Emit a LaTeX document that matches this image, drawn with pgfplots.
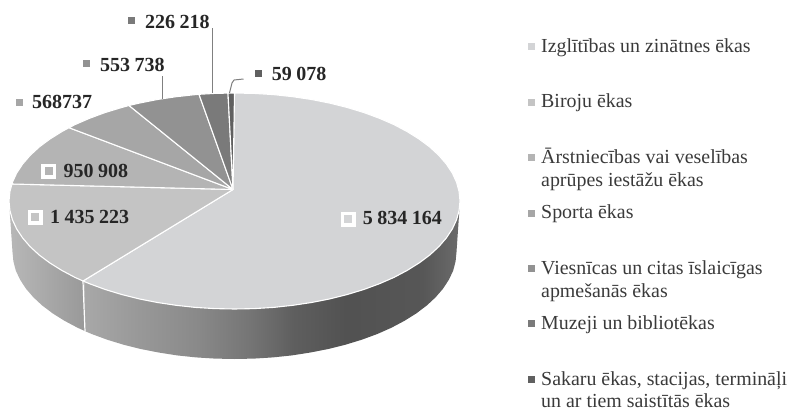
\documentclass[border=0pt]{standalone}
\usepackage{fontspec}
\setmainfont{Liberation Serif}
\usepackage{pgfplots}
\pgfplotsset{compat=1.18}

% side wall shades, 25bp..75bp spans the bounding box of the path
\pgfdeclarehorizontalshading{wallright}{100bp}{
  color(0bp)=(black!34); color(25bp)=(black!34); color(32bp)=(black!40); color(40bp)=(black!46);
  color(47bp)=(black!54); color(53bp)=(black!63); color(60bp)=(black!68);
  color(70bp)=(black!66); color(75bp)=(black!58); color(100bp)=(black!58)}
\pgfdeclarehorizontalshading{wallleft}{100bp}{
  color(0bp)=(black!28); color(25bp)=(black!28); color(50bp)=(black!34);
  color(75bp)=(black!40); color(100bp)=(black!40)}

\definecolor{sA}{HTML}{D3D4D6}
\definecolor{sB}{HTML}{C4C4C4}
\definecolor{sC}{HTML}{B4B4B4}
\definecolor{sD}{HTML}{A6A6A6}
\definecolor{sE}{HTML}{929292}
\definecolor{sF}{HTML}{7A7A7A}
\definecolor{sG}{HTML}{606060}
\definecolor{ink}{HTML}{262626}
\definecolor{leg}{HTML}{3A3A3A}

\newcommand{\val}[1]{\fontsize{20}{22}\selectfont\bfseries\color{ink}#1}
\newcommand{\gap}{\kern4.5pt}
\newcommand{\lgd}[1]{\fontsize{19.9}{22}\selectfont\color{leg}#1}

\begin{document}
\begin{tikzpicture}
\begin{axis}[
  scale only axis,width=788pt,height=410pt,
  xmin=0,xmax=788,ymin=0,ymax=410,y dir=reverse,
  axis lines=none,clip=false,
  slice/.style={draw=white,line width=1.1pt,line join=round,mark=none},
  sq/.style 2 args={only marks,mark=square*,mark size=#2pt,mark options={draw=#1,fill=#1,line width=0pt,solid}},
  lead/.style={draw=black!50,line width=1pt,mark=none},
]
% keep the full canvas in the bounding box
\path (axis cs:0,0) rectangle (axis cs:788,410);
% walls
\addplot[shade,shading=wallleft,draw=none,mark=none] coordinates {
(9,201)(12.5,252)(13.4,261.3)(15.8,270.6)(20.1,279.7)(25.9,288.6)(33.3,297.2)(42.2,305.5)(52.7,313.4)(64.5,320.8)(77.5,327.7)(85,331.1)(83,200)} --cycle;
\addplot[shade,shading=wallright,draw=none,mark=none] coordinates {
(83,200)(85,331.1)(91.7,334)(107.2,339.7)(123.5,344.7)(140.7,349)(158.6,352.5)(177,355.4)(196,357.4)(215.1,358.6)(234.5,359)(253.9,358.6)(273,357.4)(292,355.4)(310.4,352.5)(328.3,349)(345.5,344.7)(361.8,339.7)(377.3,334)(391.5,327.7)(404.5,320.8)(416.3,313.4)(426.8,305.5)(435.7,297.2)(443.1,288.6)(448.9,279.7)(453.2,270.6)(455.6,261.3)(456.5,252)(460,201)} --cycle;
\addplot[draw=white,line width=1.2pt,mark=none] coordinates {(83,281)(85,331.5)};

% 5 834 164
\addplot[slice,fill=sA] coordinates {
(233,189.5)(234.5,93)(254.2,93.4)(273.6,94.6)(292.9,96.7)(311.6,99.5)(329.8,103.1)(347.3,107.5)(363.8,112.5)(379.5,118.3)(394,124.6)(407.2,131.6)(419.2,139.1)(429.8,147)(438.9,155.4)(446.4,164.1)(452.3,173)(456.6,182.3)(459.1,191.6)(460,201)(459.1,210.4)(456.6,219.7)(452.3,229)(446.4,237.9)(438.9,246.6)(429.8,255)(419.2,262.9)(407.2,270.4)(394,277.4)(379.5,283.7)(363.8,289.5)(347.3,294.5)(329.8,298.9)(311.6,302.5)(292.9,305.3)(273.6,307.4)(254.2,308.6)(234.5,309)(214.8,308.6)(195.4,307.4)(176.1,305.3)(157.4,302.5)(139.2,298.9)(121.7,294.5)(105.2,289.5)(89.5,283.7)(83,281)} --cycle;
% 1 435 223
\addplot[slice,fill=sB] coordinates {
(233,189.5)(83,281)(75,277.4)(61.8,270.4)(49.8,262.9)(39.2,255)(30.1,246.6)(22.6,237.9)(16.7,229)(12.4,219.7)(9.9,210.4)(9,201)(9.9,191.6)(12,184)} --cycle;
% 950 908
\addplot[slice,fill=sC] coordinates {
(233,189.5)(12,184)(12.4,182.3)(16.7,173)(22.6,164.1)(30.1,155.4)(39.2,147)(49.8,139.1)(61.8,131.6)(69,127.7)} --cycle;
% 568 737
\addplot[slice,fill=sD] coordinates {
(233,189.5)(69,127.7)(75,124.6)(89.5,118.3)(105.2,112.5)(121.7,107.5)(129,105.5)} --cycle;
% 553 738
\addplot[slice,fill=sE] coordinates {
(233,189.5)(129,105.5)(139.2,103.1)(157.4,99.5)(176.1,96.7)(195.4,94.6)(199,94.3)} --cycle;
% 226 218
\addplot[slice,fill=sF] coordinates {
(233,189.5)(199,94.3)(214.8,93.4)(228,93.1)} --cycle;
% 59 078
\addplot[slice,fill=sG] coordinates {
(233,189.5)(228,93.1)(234.5,93)} --cycle;

% leader lines
\addplot[lead] coordinates {(212,28)(212,93)};
\addplot[lead] coordinates {(162,76)(162,98.5)};
\addplot[lead] coordinates {(229.5,93)(232,83)(234,80)(243.5,79)};

% value label keys
\addplot[sq={sF}{3}] coordinates {(131,20)};
\addplot[sq={sE}{3}] coordinates {(86.5,63)};
\addplot[sq={sD}{3}] coordinates {(19,102)};
\addplot[sq={sG}{3}] coordinates {(258,73)};
\addplot[sq={white}{7}] coordinates {(48.5,171)(35,217)(348.3,219)};
\addplot[sq={sC}{3.5}] coordinates {(48.5,171)};
\addplot[sq={sB}{3.5}] coordinates {(35,217)};
\addplot[sq={sA}{3.5}] coordinates {(348.3,219)};

% value labels
\node[anchor=base west,inner sep=0pt] at (axis cs:145,28.3) {\val{226\gap 218}};
\node[anchor=base west,inner sep=0pt] at (axis cs:100,71) {\val{553\gap 738}};
\node[anchor=base west,inner sep=0pt] at (axis cs:32,108.3) {\val{568737}};
\node[anchor=base west,inner sep=0pt] at (axis cs:63.3,177.7) {\val{950\gap 908}};
\node[anchor=base west,inner sep=0pt] at (axis cs:50,223.3) {\val{1\gap 435\gap 223}};
\node[anchor=base west,inner sep=0pt] at (axis cs:362.7,224.3) {\val{5\gap 834\gap 164}};
\node[anchor=base west,inner sep=0pt] at (axis cs:271.7,80.7) {\val{59\gap 078}};

% legend
\addplot[sq={sA}{3}] coordinates {(531.7,46)};
\addplot[sq={sB}{3}] coordinates {(531.7,102)};
\addplot[sq={sC}{3}] coordinates {(531.7,157)};
\addplot[sq={sD}{3}] coordinates {(531.7,213)};
\addplot[sq={sE}{3}] coordinates {(531.7,268)};
\addplot[sq={sF}{3}] coordinates {(531.7,323)};
\addplot[sq={sG}{3}] coordinates {(531.7,379)};
\node[anchor=base west,inner sep=0pt] at (axis cs:541,52.3) {\lgd{Izglītības un zinātnes ēkas}};
\node[anchor=base west,inner sep=0pt] at (axis cs:541,107.7) {\lgd{Biroju ēkas}};
\node[anchor=base west,inner sep=0pt] at (axis cs:541,163.3) {\lgd{Ārstniecības vai veselības}};
\node[anchor=base west,inner sep=0pt] at (axis cs:541,186) {\lgd{aprūpes iestāžu ēkas}};
\node[anchor=base west,inner sep=0pt] at (axis cs:541,218) {\lgd{Sporta ēkas}};
\node[anchor=base west,inner sep=0pt] at (axis cs:541,274) {\lgd{Viesnīcas un citas īslaicīgas}};
\node[anchor=base west,inner sep=0pt] at (axis cs:541,297.7) {\lgd{apmešanās ēkas}};
\node[anchor=base west,inner sep=0pt] at (axis cs:541,329.3) {\lgd{Muzeji un bibliotēkas}};
\node[anchor=base west,inner sep=0pt] at (axis cs:541,385.7) {\lgd{Sakaru ēkas, stacijas, termināļi}};
\node[anchor=base west,inner sep=0pt] at (axis cs:541,407.5) {\lgd{un ar tiem saistītās ēkas}};
\end{axis}
\end{tikzpicture}
\end{document}
